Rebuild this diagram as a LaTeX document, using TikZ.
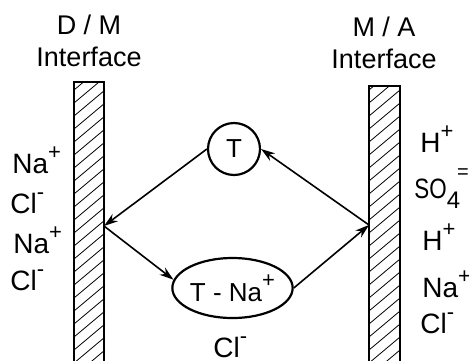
\documentclass[tikz,border=0pt]{standalone}
\usepackage{fontspec}
\setmainfont{Liberation Sans}
\usetikzlibrary{shapes.geometric,arrows.meta}

\newcommand{\ionup}[1]{\raisebox{7pt}{\fontsize{11}{11}\selectfont #1}}
\newcommand{\iondown}[1]{\raisebox{-5pt}{\fontsize{12}{12}\selectfont #1}}

\begin{document}
\begin{tikzpicture}[x=0.5pt,y=-0.5pt,
  ion/.style={anchor=base west,inner sep=0pt,font=\fontsize{14}{16}\selectfont},
  header/.style={align=center,inner sep=0pt,font=\fontsize{13.5}{16}\selectfont},
  flow/.style={line width=0.8pt,-{Stealth[length=7pt,width=4.5pt]}},
  shell/.style={draw,line width=1.1pt,inner sep=0pt,font=\fontsize{13}{15}\selectfont}]
  \useasboundingbox (0,0) rectangle (469,360);

  % Membranwande
  \foreach \xa/\yt in {74/82,369/86} {
    \begin{scope}
      \clip (\xa,\yt) rectangle (\xa+31,370);
      \foreach \ya in {90,103,...,400}
        \draw[line width=0.4pt] (\xa,\ya) -- (\xa+31,\ya-26);
    \end{scope}
  }
  \draw[line width=1.3pt] (74,82) rectangle (104,370);
  \draw[line width=1.3pt] (369,86) rectangle (400,370);

  \node[header] (dmhead) at (89,41) {D / M\\Interface};
  \node[header] (mahead) at (384,43) {M / A\\Interface};

  \coordinate (dmjoin) at (104,226);
  \coordinate (majoin) at (369,225);

  \node[shell,circle,minimum size=26pt] (carrier) at (234,149) {T};
  \node[shell,ellipse,minimum width=55.5pt,minimum height=30pt] (complex) at (232.5,288) {T - Na\ionup{+}};

  \draw[flow] (carrier.west) -- (dmjoin);
  \draw[flow] (dmjoin) -- (complex.172);
  \draw[flow] (complex.east) -- (majoin);
  \draw[flow] (majoin) -- (carrier.east);

  % Ionen links
  \node[ion] (naA) at (12,173) {Na\ionup{+}};
  \node[ion] (clA) at (10,213) {Cl\ionup{-}};
  \node[ion] (naB) at (13,253) {Na\ionup{+}};
  \node[ion] (clB) at (10,290) {Cl\ionup{-}};

  % Ionen rechts
  \node[ion] (hA) at (420,152) {H\ionup{+}};
  \node[ion] (sulf) at (414,198) {\scalebox{0.8}[1]{SO}\iondown{4}\kern-1.5pt\raisebox{10pt}{\fontsize{10}{10}\selectfont =}};
  \node[ion] (hB) at (422,250) {H\ionup{+}};
  \node[ion] (naC) at (422,297) {Na\ionup{+}};
  \node[ion] (clC) at (420,333) {Cl\ionup{-}};

  \node[ion] (clmid) at (213,357) {Cl\ionup{-}};
\end{tikzpicture}
\end{document}
